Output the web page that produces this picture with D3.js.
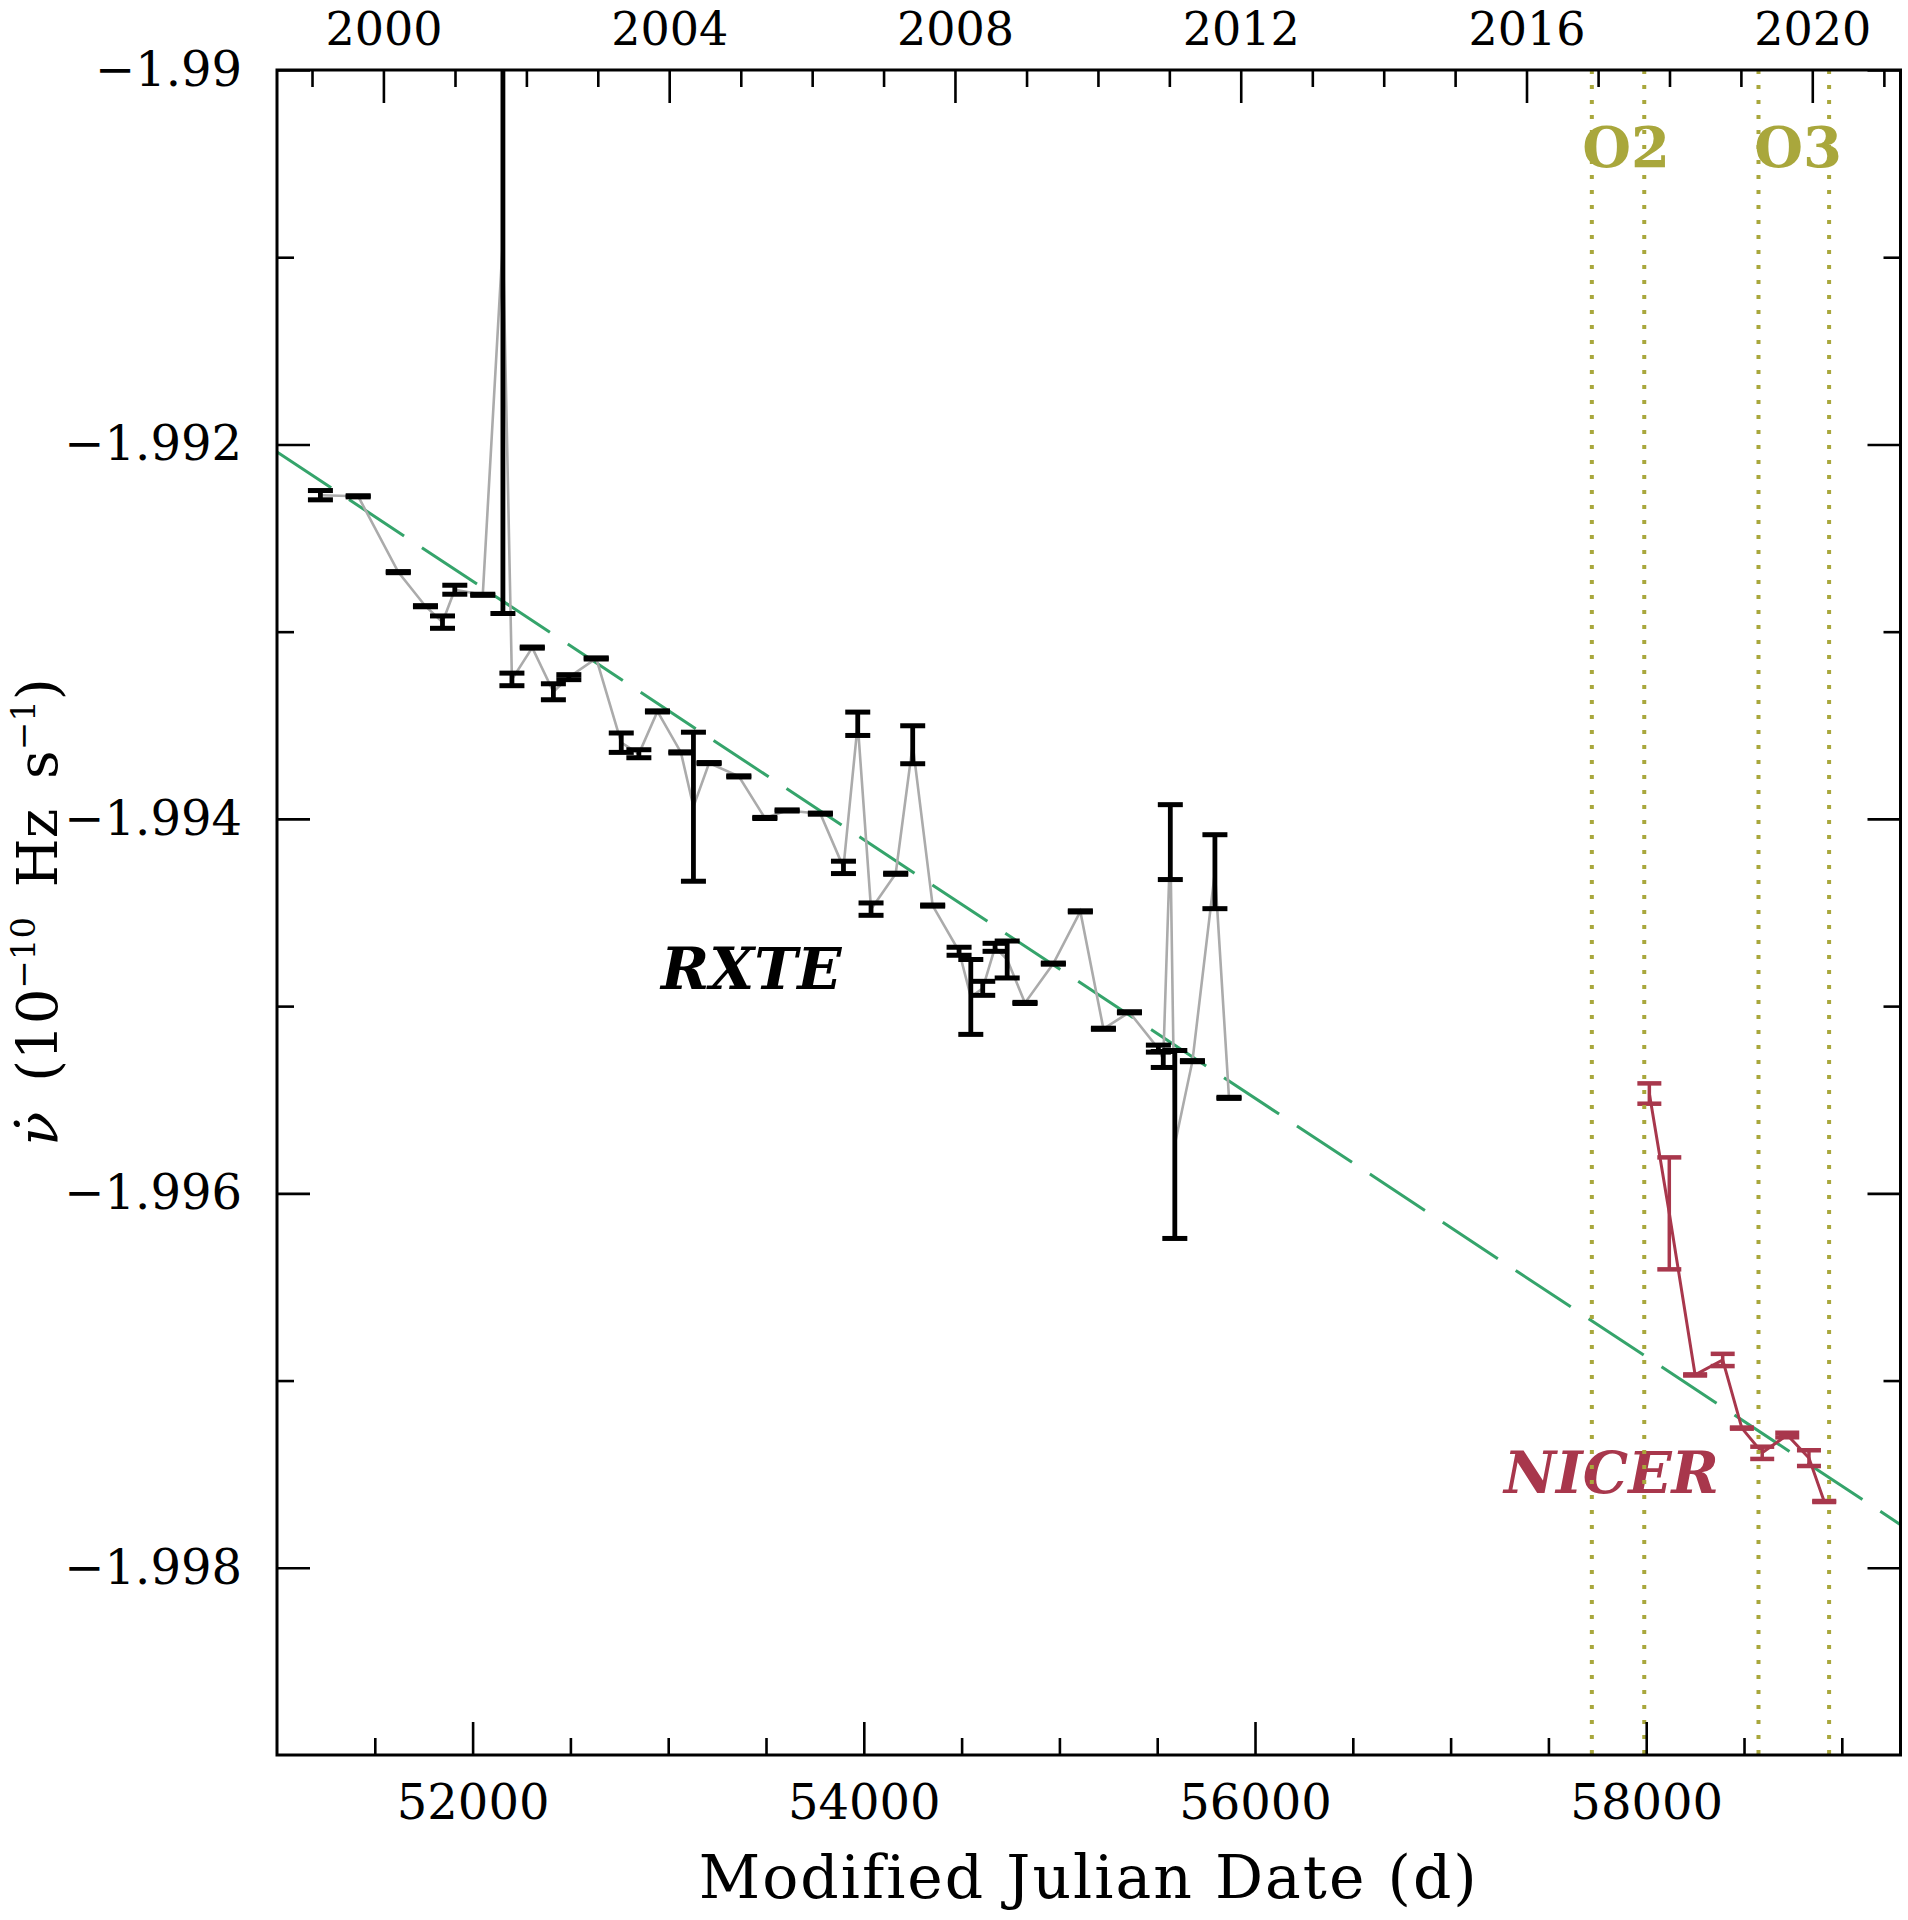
<!DOCTYPE html>
<html><head><meta charset="utf-8">
<script src="https://cdn.jsdelivr.net/npm/d3@7"></script>
<style>
body{margin:0;background:#fff;}
svg{display:block;}
text{font-family:"DejaVu Serif",serif;}
</style>
</head><body>
<svg id="chart" width="1908" height="1920"></svg>
<script>
// ---------- data ----------
const rxteMJD = [51222,51415,51620,51759,51846,51909,52052,52155,52201,52305,52413,52492,52632,52760,52850,52945,53065,53129,53209,53361,53494,53608,53778,53896,53969,54037,54163,54250,54352,54487,54547,54608,54671,54733,54824,54969,55107,55225,55358,55506,55531,55567,55590,55680,55795,55867];
const rxteNudot = [-1.992271,-1.992277,-1.992682,-1.992864,-1.992949,-1.992776,-1.992803,-1.990908,-1.993255,-1.993085,-1.993321,-1.993243,-1.993143,-1.993593,-1.993652,-1.993426,-1.993645,-1.993935,-1.993702,-1.993773,-1.993995,-1.993955,-1.993972,-1.994259,-1.993492,-1.994482,-1.994293,-1.993604,-1.994463,-1.994707,-1.994951,-1.994905,-1.994686,-1.994751,-1.994983,-1.994773,-1.994494,-1.995121,-1.995033,-1.995227,-1.995285,-1.994124,-1.995739,-1.995294,-1.994282,-1.995490];
const rxteErr = [0.0000248,0.000003,0.000003,0.000003,0.000033,0.000024,0.000003,0.001995,0.0000336,0.000003,0.0000427,0.0000133,0.000003,0.0000518,0.0000214,0.000003,0.000003,0.000398,0.000003,0.000003,0.000003,0.000003,0.000003,0.000033,0.0000624,0.000033,0.000003,0.0001014,0.000003,0.0000214,0.0002,0.0000374,0.0000214,0.0000987,0.000003,0.000003,0.000003,0.000003,0.000003,0.0000187,0.0000427,0.0002,0.000502,0.000003,0.0001975,0.000003];

const nicerMJD = [58016,58118,58250,58391,58489,58593,58721,58832,58910];
const nicerNudot = [-1.995467,-1.996107,-1.996970,-1.996890,-1.997254,-1.997386,-1.997291,-1.997414,-1.997646];
const nicerErr = [0.0000543,0.000299,0.000003,0.0000327,0.000003,0.0000327,0.0000123,0.0000422,0.000003];

// long-term spin-down fit (end points)
const fitMJD = [51000,59300];
const fitNudot = [-1.99204,-1.99777];

// LIGO/Virgo observing runs
const runStartMJD = [57722,58574];
const runEndMJD = [57990,58935];
const runNames = ["O2","O3"];
const runLabelMJD = [57897,58776];

// axes
const xDomain = [51000,59300];
const yDomain = [-1.999,-1.99];
const xTickValues = [52000,54000,56000,58000];
const xTickLabels = ["52000","54000","56000","58000"];
const xMinorTicks = [51500,52500,53000,53500,54500,55000,55500,56500,57000,57500,58500,59000];
const yTickValues = [-1.99,-1.992,-1.994,-1.996,-1.998];
const yTickLabels = ["−1.99","−1.992","−1.994","−1.996","−1.998"];
const yMinorTicks = [-1.991,-1.993,-1.995,-1.997];
const yearMinor = [1999,2001,2002,2003,2005,2006,2007,2009,2010,2011,2013,2014,2015,2017,2018,2019,2021];
const yearMajor = [2000,2004,2008,2012,2016,2020];
const yearLabels = ["2000","2004","2008","2012","2016","2020"];

// ---------- layout ----------
const W=1908,H=1920;
const L=277, R=1900.5, T=70, B=1755;
const x = d3.scaleLinear().domain(xDomain).range([L,R]);
const y = d3.scaleLinear().domain(yDomain).range([B,T]);
const mjdOfYear = yr => (Date.UTC(yr,0,1) - Date.UTC(1858,10,17))/86400000;

const COL_RXTE="#000", COL_GREY="#ababab", COL_NICER="#a8374c", COL_FIT="#35a46b", COL_RUN="#a9a73c";

const svg = d3.select('#chart');
svg.append('rect').attr('width',W).attr('height',H).attr('fill','#fff');
svg.append('defs').append('clipPath').attr('id','clip')
  .append('rect').attr('x',L).attr('y',T).attr('width',R-L).attr('height',B-T);
const plot = svg.append('g').attr('clip-path','url(#clip)');

// labels inside plot
plot.append('text').attr('x',x(52963)).attr('y',y(-1.99491))
  .attr('font-size',58).attr('font-weight','bold').attr('font-style','italic')
  .attr('fill',COL_RXTE).text('RXTE');
plot.append('text').attr('x',x(57273)).attr('y',y(-1.997602))
  .attr('font-size',57).attr('font-weight','bold').attr('font-style','italic')
  .attr('fill',COL_NICER).text('NICER');
runNames.forEach((n,i)=>{
  plot.append('text').attr('x',x(runLabelMJD[i])).attr('y',167)
    .attr('text-anchor','middle').attr('font-size',56).attr('font-weight','bold')
    .attr('fill',COL_RUN).text(n);
});

// fit line
plot.append('line')
  .attr('x1',x(fitMJD[0])).attr('y1',y(fitNudot[0]))
  .attr('x2',x(fitMJD[1])).attr('y2',y(fitNudot[1]))
  .attr('stroke',COL_FIT).attr('stroke-width',3)
  .attr('stroke-dasharray','66,21.4').attr('stroke-dashoffset',1.1);

function series(mjd,val,err){ return mjd.map((m,i)=>({m, v:val[i], e:err[i]})); }
const rxte = series(rxteMJD,rxteNudot,rxteErr);
const nicer = series(nicerMJD,nicerNudot,nicerErr);
const line = d3.line().x(d=>x(d.m)).y(d=>y(d.v));

plot.append('path').datum(rxte).attr('d',line).attr('fill','none')
  .attr('stroke',COL_GREY).attr('stroke-width',2.6);

function bars(data,color,vw,cw,half){
  const g = plot.append('g');
  const s = g.selectAll('g').data(data).join('g');
  s.append('line').attr('x1',d=>x(d.m)).attr('x2',d=>x(d.m))
    .attr('y1',d=>y(d.v-d.e)).attr('y2',d=>y(d.v+d.e))
    .attr('stroke',color).attr('stroke-width',vw);
  [-1,1].forEach(sg=>{
    s.append('line').attr('x1',d=>x(d.m)-half).attr('x2',d=>x(d.m)+half)
      .attr('y1',d=>y(d.v+sg*d.e)).attr('y2',d=>y(d.v+sg*d.e))
      .attr('stroke',color).attr('stroke-width',cw);
  });
}
bars(rxte,COL_RXTE,4.8,5,12.5);

plot.append('path').datum(nicer).attr('d',line).attr('fill','none')
  .attr('stroke',COL_NICER).attr('stroke-width',3);
bars(nicer,COL_NICER,3.5,4.5,12);

// observing run lines
runStartMJD.concat(runEndMJD).forEach(m=>{
  plot.append('line').attr('x1',x(m)).attr('x2',x(m)).attr('y1',T).attr('y2',B)
    .attr('stroke',COL_RUN).attr('stroke-width',4).attr('stroke-dasharray','4,11');
});

// ---------- axes ----------
function style(g,fs){
  g.select('.domain').remove();
  g.attr('font-family','"DejaVu Serif", serif').attr('font-size',fs);
  g.selectAll('.tick line').attr('stroke','#000').attr('stroke-width',2.6);
  g.selectAll('.tick text').attr('fill','#000');
}
svg.append('g').attr('transform',`translate(0,${B})`)
  .call(d3.axisBottom(x).tickValues(xTickValues).tickFormat((d,i)=>xTickLabels[i]).tickSize(-33).tickPadding(30))
  .call(g=>style(g,48));
svg.append('g').attr('transform',`translate(0,${B})`)
  .call(d3.axisBottom(x).tickValues(xMinorTicks).tickFormat(()=> '').tickSize(-17))
  .call(g=>style(g,48));
svg.append('g').attr('transform',`translate(${L},0)`)
  .call(d3.axisLeft(y).tickValues(yTickValues).tickFormat((d,i)=>yTickLabels[i]).tickSize(-33).tickPadding(35))
  .call(g=>style(g,48));
svg.append('g').attr('transform',`translate(${L},0)`)
  .call(d3.axisLeft(y).tickValues(yMinorTicks).tickFormat(()=> '').tickSize(-17))
  .call(g=>style(g,48));
svg.append('g').attr('transform',`translate(${R},0)`)
  .call(d3.axisRight(y).tickValues(yTickValues).tickFormat(()=> '').tickSize(-33))
  .call(g=>style(g,48));
svg.append('g').attr('transform',`translate(${R},0)`)
  .call(d3.axisRight(y).tickValues(yMinorTicks).tickFormat(()=> '').tickSize(-17))
  .call(g=>style(g,48));
svg.append('g').attr('transform',`translate(0,${T})`)
  .call(d3.axisTop(x).tickValues(yearMajor.map(mjdOfYear)).tickFormat((d,i)=>yearLabels[i]).tickSize(-33).tickPadding(25))
  .call(g=>style(g,46));
svg.append('g').attr('transform',`translate(0,${T})`)
  .call(d3.axisTop(x).tickValues(yearMinor.map(mjdOfYear)).tickFormat(()=> '').tickSize(-17))
  .call(g=>style(g,46));

svg.append('rect').attr('x',L).attr('y',T).attr('width',R-L).attr('height',B-T)
  .attr('fill','none').attr('stroke','#000').attr('stroke-width',3);

// axis titles
svg.append('text').attr('x',(L+R)/2).attr('y',1898).attr('text-anchor','middle')
  .attr('font-size',60).attr('letter-spacing',2).text('Modified Julian Date (d)');
const yl = svg.append('text').attr('transform','translate(57,912) rotate(-90)')
  .attr('text-anchor','middle').attr('font-size',56).attr('word-spacing',12);
yl.append('tspan').attr('font-style','italic').text('ν̇');
yl.append('tspan').text(' (10');
yl.append('tspan').attr('font-size',34).attr('dy',-22).text('−10');
yl.append('tspan').attr('dy',22).text(' Hz s');
yl.append('tspan').attr('font-size',34).attr('dy',-22).text('−1');
yl.append('tspan').attr('dy',22).text(')');
</script>
</body></html>
